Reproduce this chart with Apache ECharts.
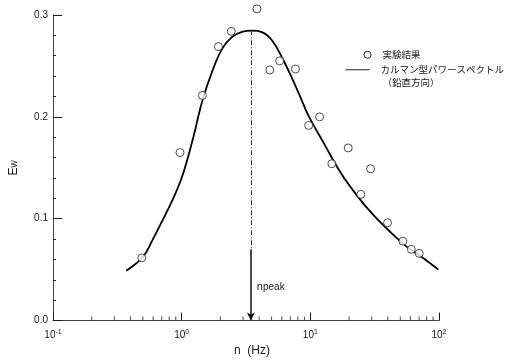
<!DOCTYPE html>
<html>
<head>
<meta charset="utf-8">
<script src="https://cdn.jsdelivr.net/npm/echarts@6/dist/echarts.min.js"></script>
<style>
  html, body { margin: 0; padding: 0; background: #fff; }
  #chart { width: 517px; height: 362px; }
</style>
</head>
<body>
<div id="chart"></div>
<script>
// measured points (n in Hz, Ew)
const pointN = [0.49, 0.97, 1.45, 1.93, 2.43, 3.85, 4.84, 5.78, 7.67, 9.7, 11.8, 14.7, 19.7, 24.7, 29.4, 39.8, 52.4, 60.9, 70.2];
const pointE = [0.0615, 0.165, 0.221, 0.269, 0.284, 0.306, 0.246, 0.255, 0.247, 0.1916, 0.200, 0.154, 0.1695, 0.124, 0.149, 0.096, 0.078, 0.070, 0.066];

// Karman spectrum curve
const curveN = [0.371, 0.501, 0.598, 0.714, 0.853, 1.018, 1.215, 1.45, 1.732, 2.067, 2.468, 2.946, 3.517, 4.2, 5.012, 5.983, 7.143, 8.526, 9.6, 12.88, 17.32, 23.28, 31.23, 42.01, 56.43, 75.74, 98.77];
const curveE = [0.049, 0.0625, 0.080, 0.099, 0.119, 0.143, 0.177, 0.216, 0.245, 0.267, 0.2785, 0.2835, 0.2846, 0.2832, 0.2755, 0.259, 0.239, 0.217, 0.202, 0.173, 0.1446, 0.122, 0.103, 0.0868, 0.0724, 0.0612, 0.050];

// peak frequency marker
const nPeak = 3.45;
const peakE = 0.285;

// minor log ticks on the x axis
const minorTicksX = [0.2, 0.3, 0.4, 0.5, 0.6, 0.7, 0.8, 0.9, 2, 3, 4, 5, 6, 7, 8, 9, 20, 30, 40, 50, 60, 70, 80, 90];

const legendNames = ['実験結果', 'カルマン型パワースペクトル', '（鉛直方向）'];

const ink = '#1a1a1a';
const font = 'Liberation Sans';
const jp = 'Noto Sans CJK JP';

const chart = echarts.init(document.getElementById('chart'));

const option = {
  animation: false,
  backgroundColor: '#fff',
  grid: { left: 49, right: 78, top: 15, bottom: 35, containLabel: false },
  xAxis: {
    type: 'log',
    logBase: 10,
    min: 0.1,
    max: 100,
    name: 'n  (Hz)',
    nameLocation: 'middle',
    nameGap: 21,
    nameTextStyle: { fontFamily: font, fontSize: 12, color: ink, padding: [0, 0, 0, 12] },
    axisLine: { lineStyle: { color: '#444', width: 1 } },
    axisTick: { inside: true, length: 8, lineStyle: { color: ink } },
    splitLine: { show: false },
    axisLabel: {
      margin: 8,
      formatter: v => '{b|10}{s|' + Math.round(Math.log10(v)) + '}',
      rich: {
        b: { fontFamily: font, fontSize: 10, color: ink },
        s: { fontFamily: font, fontSize: 7, color: ink, verticalAlign: 'top', padding: [0, 0, 6, 0] }
      }
    }
  },
  yAxis: {
    type: 'value',
    min: 0,
    max: 0.3,
    interval: 0.1,
    name: '{e|E}{w|w}',
    nameLocation: 'middle',
    nameRotate: 90,
    nameGap: 33,
    nameTextStyle: {
      rich: {
        e: { fontFamily: font, fontSize: 12, color: ink },
        w: { fontFamily: font, fontSize: 10, color: ink }
      }
    },
    axisLine: { show: true, lineStyle: { color: '#444', width: 1 } },
    axisTick: { show: true, inside: true, length: 9, lineStyle: { color: ink } },
    minorTick: { show: true, splitNumber: 5, length: 3, lineStyle: { color: ink } },
    splitLine: { show: false },
    axisLabel: {
      margin: 5,
      fontFamily: font,
      fontSize: 10,
      color: ink,
      formatter: v => v.toFixed(1)
    }
  },
  series: [
    {
      name: legendNames[1],
      type: 'line',
      smooth: 0.4,
      showSymbol: false,
      data: curveN.map((n, i) => [n, curveE[i]]),
      lineStyle: { color: '#000', width: 1.8 },
      z: 3,
      markLine: {
        silent: true,
        symbol: ['none', 'none'],
        label: { show: false },
        data: [
          [
            { coord: [nPeak, peakE], lineStyle: { type: [5, 2, 1, 2], width: 1, color: '#333' } },
            { coord: [nPeak, 0.07] }
          ],
          [
            { coord: [nPeak, 0.07], symbol: 'none', lineStyle: { type: 'solid', width: 1.5, color: '#111' } },
            { coord: [nPeak, 0], symbol: 'arrow', symbolSize: [6, 8] }
          ]
        ]
      },
      markPoint: {
        silent: true,
        symbol: 'circle',
        symbolSize: 0,
        data: [{ coord: [nPeak, 0.033] }],
        label: {
          show: true,
          position: 'right',
          distance: 6,
          formatter: '{n|n}{p|peak}',
          rich: {
            n: { fontFamily: font, fontSize: 11, color: ink },
            p: { fontFamily: font, fontSize: 10, color: ink }
          }
        }
      }
    },
    {
      name: legendNames[0],
      type: 'scatter',
      clip: false,
      symbol: 'circle',
      symbolSize: 8,
      data: pointN.map((n, i) => [n, pointE[i]]),
      itemStyle: { color: '#fff', borderColor: '#222', borderWidth: 1 },
      z: 4
    },
    {
      name: 'minorTicks',
      type: 'scatter',
      silent: true,
      symbol: 'rect',
      symbolSize: [1, 4],
      symbolOffset: [0, -2],
      data: minorTicksX.map(n => [n, 0]),
      itemStyle: { color: ink },
      z: 2
    }
  ],
  graphic: [
    {
      type: 'group',
      left: 343,
      top: 50,
      children: [
        { type: 'circle', shape: { cx: 22, cy: 7, r: 3.5 }, style: { fill: '#fff', stroke: '#222', lineWidth: 1 } },
        { type: 'text', x: 37, y: 7, style: { text: legendNames[0], font: '9.5px "' + jp + '"', fill: ink, verticalAlign: 'middle' } },
        { type: 'line', shape: { x1: 0, y1: 22, x2: 24, y2: 22 }, style: { stroke: '#222', lineWidth: 1 } },
        { type: 'text', x: 35, y: 22, style: { text: legendNames[1], font: '9.5px "' + jp + '"', fill: ink, verticalAlign: 'middle' } },
        { type: 'text', x: 37, y: 35, style: { text: legendNames[2], font: '9.5px "' + jp + '"', fill: ink, verticalAlign: 'middle' } }
      ]
    }
  ]
};

chart.setOption(option);
</script>
</body>
</html>
